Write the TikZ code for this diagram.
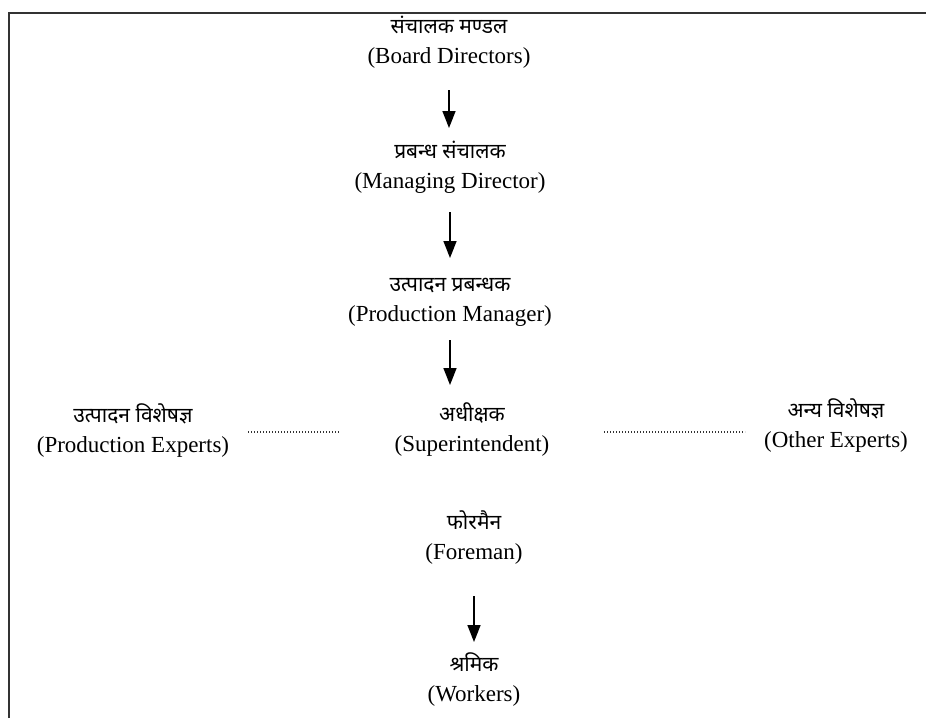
\documentclass[tikz,border=0pt]{standalone}
\usepackage{fontspec}
\setmainfont{Liberation Serif}
\newfontfamily\hin[Script=Devanagari]{Noto Sans}
\usetikzlibrary{arrows.meta}
\tikzset{
  lbl/.style={align=center, inner sep=0pt, font=\fontsize{23}{30}\selectfont},
  arr/.style={line width=1.6pt, -{Triangle[width=13pt,length=17pt]}},
  dots/.style={line width=1.5pt, dash pattern=on 1.2pt off 1.8pt, black!80},
  frame/.style={line width=1.6pt, black!80}
}
\newcommand{\hl}[1]{{\hin\fontsize{21}{30}\selectfont #1}}
\begin{document}
\begin{tikzpicture}[x=1pt,y=1pt]
\useasboundingbox (0,0) rectangle (926,-718);
\fill[white] (0,0) rectangle (926,-718);
\draw[frame] (9,-718) -- (9,-13) -- (926,-13);

\node[lbl] (bd) at (449,-42) {\hl{संचालक मण्डल}\\(Board Directors)};
\node[lbl] (md) at (450,-167) {\hl{प्रबन्ध संचालक}\\(Managing Director)};
\node[lbl] (pm) at (450,-302) {\hl{उत्पादन प्रबन्धक}\\(Production Manager)};
\node[lbl] (sup) at (472,-430) {\hl{अधीक्षक}\\(Superintendent)};
\node[lbl] (pe) at (133,-431) {\hl{उत्पादन विशेषज्ञ}\\(Production Experts)};
\node[lbl] (oe) at (836,-426) {\hl{अन्य विशेषज्ञ}\\(Other Experts)};
\node[lbl] (fm) at (474,-538) {\hl{फोरमैन}\\(Foreman)};
\node[lbl] (wk) at (474,-680) {\hl{श्रमिक}\\(Workers)};

\coordinate (a1s) at (449,-90);  \coordinate (a1e) at (449,-128);
\coordinate (a2s) at (450,-212); \coordinate (a2e) at (450,-258);
\coordinate (a3s) at (450,-340); \coordinate (a3e) at (450,-385);
\coordinate (a4s) at (474,-596); \coordinate (a4e) at (474,-642);
\draw[arr] (a1s) -- (a1e);
\draw[arr] (a2s) -- (a2e);
\draw[arr] (a3s) -- (a3e);
\draw[arr] (a4s) -- (a4e);

\coordinate (d1s) at (248,-432); \coordinate (d1e) at (340,-432);
\coordinate (d2s) at (604,-432); \coordinate (d2e) at (745,-432);
\draw[dots] (d1s) -- (d1e);
\draw[dots] (d2s) -- (d2e);
\end{tikzpicture}
\end{document}
